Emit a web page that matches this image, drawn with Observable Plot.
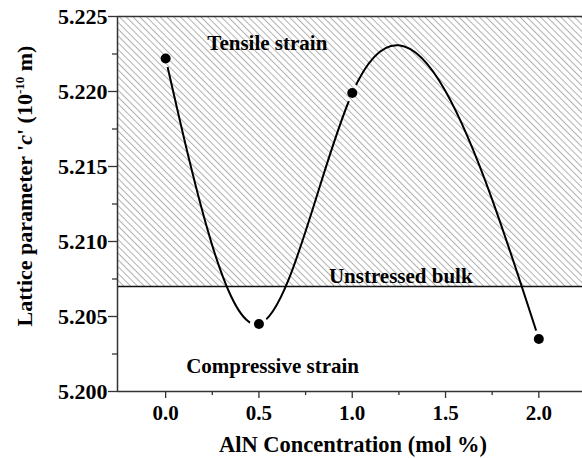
<!DOCTYPE html>
<html><head><meta charset="utf-8">
<script src="https://cdn.jsdelivr.net/npm/d3@7"></script>
<script src="https://cdn.jsdelivr.net/npm/@observablehq/plot@0.6"></script>
<style>body{margin:0;background:#fff}</style>
</head><body><div id="chart"></div>
<script>
const concentration = [0.0, 0.5, 1.0, 2.0];
const latticeC = [5.2222, 5.2045, 5.2199, 5.2035];
const unstressedBulk = 5.207;
const xDomain = [-0.258, 2.234];
const yDomain = [5.200, 5.225];
const xMajorTicks = [0, 0.5, 1, 1.5, 2];
const xMinorTicks = [0.25, 0.75, 1.25, 1.75];
const yMajorTicks = [5.200, 5.205, 5.210, 5.215, 5.220, 5.225];
const yMinorTicks = [5.2025, 5.2075, 5.2125, 5.2175, 5.2225];
const annotationText = ["Tensile strain", "Unstressed bulk", "Compressive strain"];
const annotationX = [0.545, 1.26, 0.573];
const annotationY = [5.2232, 5.2077, 5.2017];

const W = 582, H = 458;
const FONT = "'Liberation Serif', 'Times New Roman', serif";

// natural cubic spline as a function of x (rendering curve)
function naturalX(context) {
  let xs, ys;
  return {
    areaStart() {}, areaEnd() {},
    lineStart() { xs = []; ys = []; },
    point(x, y) { xs.push(+x); ys.push(+y); },
    lineEnd() {
      const n = xs.length;
      if (!n) return;
      context.moveTo(xs[0], ys[0]);
      if (n === 1) return;
      if (n === 2) { context.lineTo(xs[1], ys[1]); return; }
      const h = [], M = new Array(n).fill(0);
      for (let i = 0; i < n - 1; i++) h.push(xs[i + 1] - xs[i]);
      const m = n - 2, a = [], b = [], c = [], d = [];
      for (let k = 0; k < m; k++) {
        const i = k + 1;
        a.push(h[i - 1]); b.push(2 * (h[i - 1] + h[i])); c.push(h[i]);
        d.push(6 * ((ys[i + 1] - ys[i]) / h[i] - (ys[i] - ys[i - 1]) / h[i - 1]));
      }
      for (let k = 1; k < m; k++) { const w = a[k] / b[k - 1]; b[k] -= w * c[k - 1]; d[k] -= w * d[k - 1]; }
      const sol = new Array(m);
      sol[m - 1] = d[m - 1] / b[m - 1];
      for (let k = m - 2; k >= 0; k--) sol[k] = (d[k] - c[k] * sol[k + 1]) / b[k];
      for (let k = 0; k < m; k++) M[k + 1] = sol[k];
      for (let i = 0; i < n - 1; i++) {
        const hi = h[i], s = (ys[i + 1] - ys[i]) / hi;
        const m0 = s - hi * (2 * M[i] + M[i + 1]) / 6;
        const m1 = s + hi * (M[i] + 2 * M[i + 1]) / 6;
        context.bezierCurveTo(xs[i] + hi / 3, ys[i] + m0 * hi / 3, xs[i + 1] - hi / 3, ys[i + 1] - m1 * hi / 3, xs[i + 1], ys[i + 1]);
      }
    }
  };
}

const points = concentration.map((x, i) => ({x, y: latticeC[i]}));
const annotations = annotationText.map((t, i) => ({t, x: annotationX[i], y: annotationY[i]}));
const axisColor = "#333";

const chart = Plot.plot({
  width: W, height: H,
  marginLeft: 117, marginRight: 0, marginTop: 16, marginBottom: 67,
  style: {fontFamily: FONT, fontWeight: "bold", fontSize: "21px", background: "#fff", overflow: "visible"},
  x: {domain: xDomain},
  y: {domain: yDomain},
  marks: [
    Plot.rect([{}], {x1: xDomain[0], x2: xDomain[1], y1: unstressedBulk, y2: yDomain[1], fill: "url(#hatch)"}),
    Plot.ruleY([unstressedBulk], {stroke: "#111", strokeWidth: 1.5}),
    Plot.line(points, {x: "x", y: "y", curve: naturalX, stroke: "#000", strokeWidth: 2}),
    Plot.dot(points, {x: "x", y: "y", r: 5, fill: "#000", stroke: "none"}),
    Plot.text(annotations, {x: "x", y: "y", text: "t", fontFamily: FONT, fontSize: 21, fontWeight: "bold", fill: "#000"}),
    Plot.ruleX([xDomain[0]], {stroke: axisColor, strokeWidth: 1.5}),
    Plot.ruleY([yDomain[0], yDomain[1]], {stroke: axisColor, strokeWidth: 1.5}),
    Plot.axisY(yMajorTicks, {tickSize: 9, tickPadding: 1, tickFormat: d3.format(".3f"), label: null, stroke: axisColor, strokeWidth: 1.3, fill: "#000", fontFamily: FONT, fontSize: 22, fontWeight: "bold", fontVariant: "normal"}),
    Plot.axisY(yMinorTicks, {tickSize: 5, tickFormat: () => "", label: null, stroke: axisColor, strokeWidth: 1.3}),
    Plot.axisX(xMajorTicks, {tickSize: 7, tickPadding: 7, tickFormat: d3.format(".1f"), label: null, stroke: axisColor, strokeWidth: 1.3, fill: "#000", fontFamily: FONT, fontSize: 21, fontWeight: "bold", fontVariant: "normal"}),
    Plot.axisX(xMinorTicks, {tickSize: 4, tickFormat: () => "", label: null, stroke: axisColor, strokeWidth: 1.3})
  ]
});

const svg = d3.select(chart);
svg.selectAll('g[aria-label="y-axis tick label"]').attr("font-size", 22).attr("font-family", FONT).attr("font-weight", "bold");
svg.selectAll('g[aria-label="x-axis tick label"]').attr("font-size", 21).attr("font-family", FONT).attr("font-weight", "bold");

const defs = svg.insert("defs", ":first-child");
const pat = defs.append("pattern").attr("id", "hatch").attr("patternUnits", "userSpaceOnUse")
  .attr("width", 4.8).attr("height", 4.8).attr("patternTransform", "rotate(-45)");
pat.append("line").attr("x1", 0.5).attr("y1", -1).attr("x2", 0.5).attr("y2", 6).attr("stroke", "#b0b0b0").attr("stroke-width", 1);

const xs = chart.scale("x"), ys = chart.scale("y");
const mask = defs.append("mask").attr("id", "gapmask").attr("maskUnits", "userSpaceOnUse")
  .attr("x", 0).attr("y", 0).attr("width", W).attr("height", H);
mask.append("rect").attr("width", W).attr("height", H).attr("fill", "#fff");
concentration.forEach((c, i) => {
  mask.append("circle").attr("cx", xs.apply(c)).attr("cy", ys.apply(latticeC[i])).attr("r", 9).attr("fill", "#000");
});
svg.select('g[aria-label="line"]').attr("mask", "url(#gapmask)");

// axis titles
svg.append("text").attr("x", 353).attr("y", 452).attr("text-anchor", "middle")
  .attr("font-family", FONT).attr("font-size", 22.5).attr("font-weight", "bold").attr("fill", "#000")
  .text("AlN Concentration (mol %)");
const yt = svg.append("text").attr("transform", "translate(32,186) rotate(-90)").attr("text-anchor", "middle")
  .attr("font-family", FONT).attr("font-size", 22).attr("font-weight", "bold").attr("fill", "#000");
yt.append("tspan").text("Lattice parameter '");
yt.append("tspan").attr("font-style", "italic").text("c");
yt.append("tspan").text("' (10");
yt.append("tspan").attr("font-size", 13).attr("dy", -8).text("-10");
yt.append("tspan").attr("dy", 8).text(" m)");

document.getElementById("chart").appendChild(chart);
</script>
</body></html>
